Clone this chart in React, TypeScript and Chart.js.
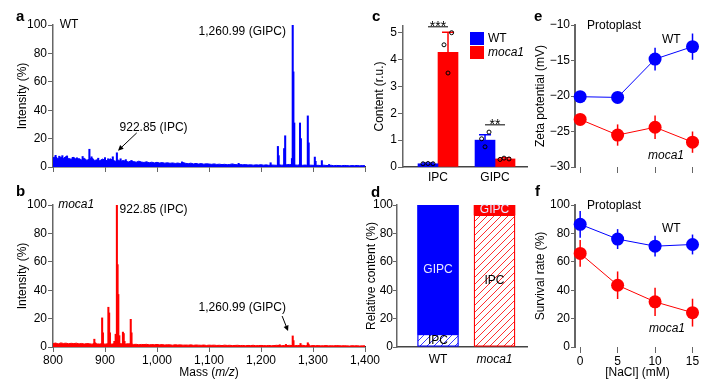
import React, { useEffect, useRef } from 'react';
import { Chart, registerables } from 'chart.js';

Chart.register(...registerables);

const FONT = "'Liberation Sans', Arial, Helvetica, sans-serif";
const BLUE = '#0000ff';
const RED = '#ff0000';
const AXIS = '#666666';

// ---------- panels a, b : mass spectra ----------
const massTicks = [800, 900, 1000, 1100, 1200, 1300, 1400];
const intensityTicks = [0, 20, 40, 60, 80, 100];
const noiseStart = 800;
const noiseStep = 5;
const wtNoise = [
  6.5, 7.2, 5.8, 7.0, 6.1, 7.4, 6.0, 5.5, 6.8, 5.2,
  5.9, 5.0, 6.2, 4.8, 5.4, 6.6, 4.6, 5.1, 4.4, 5.6,
  4.9, 4.3, 5.8, 4.7, 4.1, 5.0, 3.9, 4.6, 4.0, 3.6,
  4.2, 3.8, 3.4, 4.1, 3.5, 3.2, 3.7, 3.0, 3.4, 2.9,
  3.3, 2.8, 3.1, 2.7, 3.0, 2.6, 2.9, 2.5, 2.8, 2.4,
  3.1, 2.6, 2.3, 2.7, 2.2, 2.5, 2.1, 2.4, 2.0, 2.3,
  2.1, 1.9, 2.2, 1.8, 2.0, 1.7, 1.9, 1.6, 1.8, 2.2,
  1.7, 1.6, 1.8, 1.5, 1.7, 1.4, 1.6, 1.3, 1.5, 1.4,
  1.6, 1.3, 1.5, 1.2, 1.4, 1.3, 1.2, 1.5, 1.3, 1.4,
  1.6, 1.8, 1.5, 1.4, 1.3, 1.6, 1.2, 1.4, 1.1, 1.3,
  1.2, 1.1, 1.2, 1.0, 1.3, 1.1, 1.0, 1.2, 0.9, 1.1,
  1.0, 0.9, 1.1, 1.0, 0.8, 1.0, 0.9, 1.1, 0.8, 1.0,
  0.9,
];
const wtPeaks: [number, number][] = [
  [805, 8.2], [812, 7.6], [818, 8.0], [827, 7.8], [838, 6.8], [846, 6.5], [857, 7.4],
  [870, 12.5], [874, 7.2], [887, 6.2], [900, 6.6], [906, 5.8], [915, 7.2], [922.85, 10],
  [930, 5.8], [940, 5.2], [951, 4.6], [1048, 3.6], [1157, 2.6], [1218.5, 3],
  [1232.5, 14.5], [1234, 8], [1244.5, 13], [1246.5, 22], [1259.5, 6], [1260.99, 100],
  [1262.3, 67], [1264, 31], [1275, 31], [1276.7, 20], [1290, 36], [1291.7, 17],
  [1303.5, 7], [1305, 4], [1317, 4.5], [1331, 1.8],
];
const mocaNoise = [
  2.4, 2.8, 2.2, 2.9, 2.5, 2.7, 2.3, 2.6, 2.4, 2.7,
  2.2, 2.5, 2.1, 2.4, 2.3, 2.0, 2.6, 2.2, 2.1, 2.4,
  2.0, 2.3, 1.9, 2.2, 2.5, 2.0, 2.4, 1.9, 2.1, 2.3,
  2.2, 1.8, 1.9, 1.6, 1.8, 1.7, 1.9, 1.5, 1.7, 1.6,
  1.8, 1.5, 1.7, 1.4, 1.6, 1.5, 1.3, 1.6, 1.4, 1.5,
  1.3, 1.4, 1.3, 1.5, 1.2, 1.4, 1.3, 1.2, 1.4, 1.1,
  1.3, 1.2, 1.3, 1.1, 1.2, 1.0, 1.3, 1.1, 1.2, 1.0,
  1.1, 1.2, 1.0, 1.1, 0.9, 1.1, 1.0, 1.2, 0.9, 1.0,
  1.1, 1.0, 0.9, 1.1, 0.9, 1.0, 1.2, 1.0, 0.9, 1.1,
  1.0, 1.2, 1.0, 0.9, 1.1, 1.0, 1.2, 0.9, 1.0, 0.8,
  1.0, 0.9, 1.0, 0.8, 0.9, 1.0, 0.8, 0.9, 0.8, 1.0,
  0.9, 0.8, 0.9, 0.8, 0.7, 0.9, 0.8, 0.9, 0.7, 0.8,
  0.8,
];
const mocaPeaks: [number, number][] = [
  [879.5, 5.5], [881, 3], [894.5, 20.5], [896, 10], [906.5, 28], [908, 24], [909.5, 10],
  [918, 4], [920.5, 9], [922.85, 100], [924.2, 58], [925.6, 37], [927.5, 8],
  [934.5, 10.5], [936, 9.5], [937.5, 4], [949.5, 19.5], [951, 10],
  [1236, 1.6], [1248, 1.8], [1261, 7.8], [1262.5, 4.5], [1276, 2.5], [1290, 3], [1291.5, 2],
];

type Ann = { text: string; mz: number; val: number; align: CanvasTextAlign; italic?: boolean };
type Arrow = { from: [number, number]; to: [number, number] };
const wtAnnotations: Ann[] = [
  { text: 'WT', mz: 813, val: 100, align: 'left' },
  { text: '1,260.99 (GIPC)', mz: 1248, val: 95, align: 'right' },
  { text: '922.85 (IPC)', mz: 928, val: 28, align: 'left' },
];
const wtArrows: Arrow[] = [{ from: [961, 24], to: [925, 11.5] }];
const mocaAnnotations: Ann[] = [
  { text: 'moca1', mz: 810, val: 100, align: 'left', italic: true },
  { text: '922.85 (IPC)', mz: 928, val: 96.5, align: 'left' },
  { text: '1,260.99 (GIPC)', mz: 1080, val: 28, align: 'left' },
];
const mocaArrows: Arrow[] = [{ from: [1240.6, 21.8], to: [1252, 11.3] }];

// ---------- panel c ----------
const lipidClasses = ['IPC', 'GIPC'];
const contentWT = [0.12, 1.0];
const contentWTErr = [0.03, 0.2];
const contentMoca = [4.27, 0.3];
const contentMocaErr = [0.75, 0.04];
const repsWT = [[0.12, 0.13, 0.12], [1.3, 1.05, 0.75]];
const repsMoca = [[5.0, 4.55, 3.5], [0.28, 0.33, 0.3]];
const jitterWT = [[-0.25, 0, 0.25], [0.2, -0.17, 0]];
const jitterMoca = [[0.18, -0.2, 0], [-0.25, -0.05, 0.2]];
const contentTicks = [0, 1, 2, 3, 4, 5];
const sigLevel = [5.22, 1.57];
const sigStars = ['***', '**'];

// ---------- panel d ----------
const genotypes = ['WT', 'moca1'];
const relIPC = [9, 93];
const relGIPC = [91, 7];
const relTicks = [0, 20, 40, 60, 80, 100];

// ---------- panels e, f ----------
const nacl = [0, 5, 10, 15];
const zetaWT = [-20.1, -20.2, -14.8, -13.05];
const zetaWTErr = [0.3, 0.3, 1.6, 1.85];
const zetaMoca = [-23.3, -25.5, -24.4, -26.5];
const zetaMocaErr = [0.5, 1.5, 1.65, 1.5];
const zetaTicks = [-30, -25, -20, -15, -10];
const survWT = [86.4, 76, 71, 72.2];
const survWTErr = [9.4, 7, 7.3, 7];
const survMoca = [65.9, 43.5, 31.8, 24.2];
const survMocaErr = [9.4, 9.7, 10, 9.8];
const survTicks = [0, 20, 40, 60, 80, 100];

Chart.defaults.font.family = FONT;
Chart.defaults.color = '#000';

const f12 = { family: FONT, size: 12 };

function yCfg(o: any) {
  return {
    type: 'linear',
    min: o.min,
    max: o.max,
    afterFit: (s: any) => { s.width = o.width; },
    afterBuildTicks: (s: any) => { s.ticks = o.ticks.map((v: number) => ({ value: v })); },
    grid: { display: true, drawOnChartArea: false, drawTicks: true, tickLength: o.tickLen, color: AXIS, lineWidth: 1 },
    border: { display: true, color: AXIS, width: o.borderWidth ?? 1.5 },
    ticks: {
      color: '#000', font: o.tickFont ?? f12, padding: o.tickPad, autoSkip: false,
      callback: (v: any) => (o.fmt ? o.fmt(v) : String(v)),
    },
    title: { display: true, text: o.title, color: '#000', font: f12, padding: { top: o.titlePad, bottom: 0 } },
  };
}

const baseOpts = {
  responsive: false,
  animation: false,
  devicePixelRatio: 1,
  events: [],
  plugins: { legend: { display: false }, tooltip: { enabled: false } },
};

function specAnnot(texts: Ann[], arrows: Arrow[]) {
  return {
    id: 'specAnnot',
    afterDatasetsDraw(chart: any) {
      const { ctx } = chart;
      const x = chart.scales.x;
      const y = chart.scales.y;
      ctx.save();
      ctx.fillStyle = '#000';
      ctx.strokeStyle = '#000';
      ctx.textBaseline = 'middle';
      for (const t of texts) {
        ctx.font = `${t.italic ? 'italic ' : ''}12px ${FONT}`;
        ctx.textAlign = t.align;
        ctx.fillText(t.text, x.getPixelForValue(t.mz), y.getPixelForValue(t.val));
      }
      for (const a of arrows) {
        const x1 = x.getPixelForValue(a.from[0]);
        const y1 = y.getPixelForValue(a.from[1]);
        const x2 = x.getPixelForValue(a.to[0]);
        const y2 = y.getPixelForValue(a.to[1]);
        const ang = Math.atan2(y2 - y1, x2 - x1);
        const hl = 6;
        ctx.lineWidth = 1;
        ctx.beginPath();
        ctx.moveTo(x1, y1);
        ctx.lineTo(x2 - Math.cos(ang) * hl * 0.7, y2 - Math.sin(ang) * hl * 0.7);
        ctx.stroke();
        ctx.beginPath();
        ctx.moveTo(x2, y2);
        ctx.lineTo(x2 - hl * Math.cos(ang - 0.45), y2 - hl * Math.sin(ang - 0.45));
        ctx.lineTo(x2 - hl * Math.cos(ang + 0.45), y2 - hl * Math.sin(ang + 0.45));
        ctx.closePath();
        ctx.fill();
      }
      ctx.restore();
    },
  };
}

const massTitle = {
  id: 'massTitle',
  afterDraw(chart: any) {
    const { ctx, chartArea } = chart;
    const parts: [string, boolean][] = [['Mass (', false], ['m/z', true], [')', false]];
    ctx.save();
    let total = 0;
    const widths = parts.map(([t, it]) => {
      ctx.font = `${it ? 'italic ' : ''}12px ${FONT}`;
      const w = ctx.measureText(t).width;
      total += w;
      return w;
    });
    let x = (chartArea.left + chartArea.right) / 2 - total / 2;
    ctx.fillStyle = '#000';
    ctx.textBaseline = 'middle';
    ctx.textAlign = 'left';
    parts.forEach(([t, it], i) => {
      ctx.font = `${it ? 'italic ' : ''}12px ${FONT}`;
      ctx.fillText(t, x, chart.height - 14);
      x += widths[i];
    });
    ctx.restore();
  },
};

function spectrumConfig(noise: number[], peaks: [number, number][], color: string, showLabels: boolean, top: number, xH: number, plugins: any[]) {
  return {
    type: 'line',
    data: {
      datasets: [
        {
          type: 'bar',
          data: peaks.map(([m, h]) => ({ x: m, y: h })),
          backgroundColor: color,
          borderWidth: 0,
          barThickness: 1.4,
        },
        {
          type: 'line',
          data: noise.map((v, i) => ({ x: noiseStart + i * noiseStep, y: v })),
          borderColor: color,
          borderWidth: 1,
          backgroundColor: color,
          fill: 'origin',
          pointRadius: 0,
          tension: 0,
        },
      ],
    },
    options: {
      ...baseOpts,
      layout: { padding: { left: 0, top, right: 20, bottom: 0 } },
      scales: {
        x: {
          type: 'linear', min: 800, max: 1400, offset: false,
          afterFit: (s: any) => { s.height = xH; },
          afterBuildTicks: (s: any) => { s.ticks = massTicks.map((v) => ({ value: v })); },
          grid: { display: true, offset: false, drawOnChartArea: false, drawTicks: true, tickLength: 5, color: AXIS },
          border: { display: true, color: '#333', width: 1.5 },
          ticks: {
            display: showLabels, color: '#000', font: f12, padding: 1, maxRotation: 0, autoSkip: false,
            callback: (v: any) => Number(v).toLocaleString('en-US'),
          },
        },
        y: yCfg({ min: 0, max: 100, ticks: intensityTicks, width: 53, title: 'Intensity (%)', titlePad: 15, tickLen: 5, tickPad: 1 }),
      },
    },
    plugins,
  };
}

function buildA() {
  return spectrumConfig(wtNoise, wtPeaks, BLUE, false, 25, 18, [specAnnot(wtAnnotations, wtArrows)]);
}
function buildB() {
  return spectrumConfig(mocaNoise, mocaPeaks, RED, true, 20, 40, [specAnnot(mocaAnnotations, mocaArrows), massTitle]);
}

function buildC() {
  const plugin = {
    id: 'cExtras',
    afterDatasetsDraw(chart: any) {
      const { ctx } = chart;
      const yS = chart.scales.y;
      const means = [contentWT, contentMoca];
      const errs = [contentWTErr, contentMocaErr];
      const reps = [repsWT, repsMoca];
      const jit = [jitterWT, jitterMoca];
      const cols = [BLUE, RED];
      ctx.save();
      [0, 1].forEach((di) => {
        const meta = chart.getDatasetMeta(di);
        meta.data.forEach((bar: any, j: number) => {
          const yTop = yS.getPixelForValue(means[di][j] + errs[di][j]);
          const yMean = yS.getPixelForValue(means[di][j]);
          ctx.strokeStyle = cols[di];
          ctx.lineWidth = 1.5;
          ctx.beginPath();
          ctx.moveTo(bar.x, yMean);
          ctx.lineTo(bar.x, yTop);
          ctx.moveTo(bar.x - 6, yTop);
          ctx.lineTo(bar.x + 6, yTop);
          ctx.stroke();
        });
      });
      [0, 1].forEach((di) => {
        const meta = chart.getDatasetMeta(di);
        meta.data.forEach((bar: any, j: number) => {
          reps[di][j].forEach((v: number, k: number) => {
            ctx.strokeStyle = '#000';
            ctx.lineWidth = 1;
            ctx.beginPath();
            ctx.arc(bar.x + jit[di][j][k] * bar.width, yS.getPixelForValue(v), 2, 0, Math.PI * 2);
            ctx.stroke();
          });
        });
      });
      const m0 = chart.getDatasetMeta(0).data;
      const m1 = chart.getDatasetMeta(1).data;
      sigLevel.forEach((lv, i) => {
        const yy = yS.getPixelForValue(lv);
        ctx.strokeStyle = '#000';
        ctx.lineWidth = 1;
        ctx.beginPath();
        ctx.moveTo(m0[i].x, yy);
        ctx.lineTo(m1[i].x, yy);
        ctx.stroke();
        ctx.fillStyle = '#000';
        ctx.font = `14px ${FONT}`;
        ctx.textAlign = 'center';
        ctx.textBaseline = 'alphabetic';
        ctx.fillText(sigStars[i], (m0[i].x + m1[i].x) / 2, yy + 4.5);
      });
      ctx.fillStyle = BLUE;
      ctx.fillRect(102, 32, 14, 13);
      ctx.fillStyle = RED;
      ctx.fillRect(102, 46, 14, 13);
      ctx.fillStyle = '#000';
      ctx.textAlign = 'left';
      ctx.textBaseline = 'middle';
      ctx.font = `12px ${FONT}`;
      ctx.fillText('WT', 120, 38.5);
      ctx.font = `italic 12px ${FONT}`;
      ctx.fillText('moca1', 120, 52.5);
      ctx.restore();
    },
  };
  return {
    type: 'bar',
    data: {
      datasets: [
        { label: 'WT', data: contentWT.map((v, i) => ({ x: i, y: v })), backgroundColor: BLUE, barThickness: 20, borderWidth: 0 },
        { label: 'moca1', data: contentMoca.map((v, i) => ({ x: i, y: v })), backgroundColor: RED, barThickness: 20, borderWidth: 0 },
      ],
    },
    options: {
      ...baseOpts,
      layout: { padding: { left: 0, top: 26, right: 23, bottom: 0 } },
      scales: {
        x: {
          type: 'linear', min: -0.614, max: 1.561, offset: false,
          afterFit: (s: any) => { s.height = 18; },
          afterBuildTicks: (s: any) => { s.ticks = lipidClasses.map((_, i) => ({ value: i })); },
          grid: { display: true, offset: false, drawOnChartArea: false, drawTicks: false, color: AXIS },
          border: { display: true, color: '#444', width: 1.5 },
          ticks: { color: '#000', font: f12, padding: 3, autoSkip: false, maxRotation: 0, callback: (_v: any, i: number) => lipidClasses[i] },
        },
        y: yCfg({ min: 0, max: 5.25, ticks: contentTicks, width: 35, title: 'Content (r.u.)', titlePad: 4, tickLen: 5, tickPad: 1 }),
      },
    },
    plugins: [plugin],
  };
}

function makeHatch(color: string) {
  const c = document.createElement('canvas');
  c.width = 7;
  c.height = 7;
  const g = c.getContext('2d')!;
  g.fillStyle = '#ffffff';
  g.fillRect(0, 0, 7, 7);
  g.strokeStyle = color;
  g.lineWidth = 1;
  g.beginPath();
  g.moveTo(-1, 8); g.lineTo(8, -1);
  g.moveTo(-1, 1); g.lineTo(1, -1);
  g.moveTo(6, 8); g.lineTo(8, 6);
  g.stroke();
  return g.createPattern(c, 'repeat')!;
}

function buildD() {
  const segNames = ['IPC', 'GIPC'];
  const plugin = {
    id: 'dLabels',
    afterDatasetsDraw(chart: any) {
      const { ctx } = chart;
      ctx.save();
      ctx.font = `12px ${FONT}`;
      ctx.textAlign = 'center';
      ctx.textBaseline = 'middle';
      [0, 1].forEach((di) => {
        chart.getDatasetMeta(di).data.forEach((bar: any) => {
          ctx.fillStyle = di === 0 ? '#000' : '#e8e8ff';
          ctx.fillText(segNames[di], bar.x, (bar.y + bar.base) / 2);
        });
      });
      ctx.restore();
    },
  };
  return {
    type: 'bar',
    data: {
      datasets: [
        {
          label: 'IPC', data: relIPC.map((v, i) => ({ x: i, y: v })),
          backgroundColor: [makeHatch('#3a3aff'), makeHatch('#ff3030')],
          borderColor: [BLUE, RED], borderWidth: 1.3, borderSkipped: false, barThickness: 41,
        },
        {
          label: 'GIPC', data: relGIPC.map((v, i) => ({ x: i, y: v })),
          backgroundColor: [BLUE, RED], borderWidth: 0, barThickness: 41,
        },
      ],
    },
    options: {
      ...baseOpts,
      layout: { padding: { left: 0, top: 20, right: 23, bottom: 0 } },
      scales: {
        x: {
          type: 'linear', min: -0.726, max: 1.575, offset: false, stacked: true,
          afterFit: (s: any) => { s.height = 40; },
          afterBuildTicks: (s: any) => { s.ticks = genotypes.map((_, i) => ({ value: i })); },
          grid: { display: true, offset: false, drawOnChartArea: false, drawTicks: false, color: AXIS },
          border: { display: true, color: '#444', width: 1.5 },
          ticks: {
            color: '#000', padding: 5, autoSkip: false, maxRotation: 0,
            font: (ctx: any) => ({ family: FONT, size: 12, style: genotypes[Math.round(ctx.tick?.value ?? 0)] === 'moca1' ? 'italic' : 'normal' }),
            callback: (_v: any, i: number) => genotypes[i],
          },
        },
        y: { ...yCfg({ min: 0, max: 100, ticks: relTicks, width: 33, title: 'Relative content (%)', titlePad: 0, tickLen: 4, tickPad: 0 }), stacked: true },
      },
    },
    plugins: [plugin],
  };
}

type Txt = { text: string; x: number; y: number; italic?: boolean };

function lineConfig(wt: number[], wtErr: number[], mo: number[], moErr: number[], yMin: number, yMax: number, yTicks: number[], title: string, top: number, xH: number, showX: boolean, texts: Txt[], fmt?: (v: number) => string) {
  const plugin = {
    id: 'errText',
    beforeDatasetsDraw(chart: any) {
      const { ctx } = chart;
      const x = chart.scales.x;
      const y = chart.scales.y;
      ctx.save();
      ctx.lineWidth = 1.5;
      [[wt, wtErr, BLUE], [mo, moErr, RED]].forEach(([vals, errs, col]: any) => {
        ctx.strokeStyle = col;
        nacl.forEach((n, i) => {
          const px = x.getPixelForValue(n);
          ctx.beginPath();
          ctx.moveTo(px, y.getPixelForValue(vals[i] - errs[i]));
          ctx.lineTo(px, y.getPixelForValue(vals[i] + errs[i]));
          ctx.stroke();
        });
      });
      ctx.restore();
    },
    afterDraw(chart: any) {
      const { ctx } = chart;
      ctx.save();
      ctx.fillStyle = '#000';
      ctx.textAlign = 'left';
      ctx.textBaseline = 'middle';
      texts.forEach((t) => {
        ctx.font = `${t.italic ? 'italic ' : ''}12px ${FONT}`;
        ctx.fillText(t.text, t.x, t.y);
      });
      ctx.restore();
    },
  };
  return {
    type: 'line',
    data: {
      datasets: [
        { data: nacl.map((n, i) => ({ x: n, y: wt[i] })), borderColor: BLUE, backgroundColor: BLUE, borderWidth: 1, pointRadius: 6.5, pointBorderWidth: 0, tension: 0 },
        { data: nacl.map((n, i) => ({ x: n, y: mo[i] })), borderColor: RED, backgroundColor: RED, borderWidth: 1, pointRadius: 6.5, pointBorderWidth: 0, tension: 0 },
      ],
    },
    options: {
      ...baseOpts,
      clip: false,
      layout: { padding: { left: 0, top, right: 13, bottom: 0 } },
      scales: {
        x: {
          type: 'linear', min: -0.69, max: 16,
          afterFit: (s: any) => { s.height = xH; },
          afterBuildTicks: (s: any) => { s.ticks = nacl.map((v) => ({ value: v })); },
          grid: { display: true, drawOnChartArea: false, drawTicks: true, tickLength: 6, color: AXIS },
          border: { display: false },
          ticks: { display: showX, color: '#000', font: f12, padding: 1, autoSkip: false, maxRotation: 0, callback: (v: any) => String(v) },
          title: { display: showX, text: '[NaCl] (mM)', color: '#000', font: f12, padding: { top: 0, bottom: 7 } },
        },
        y: yCfg({ min: yMin, max: yMax, ticks: yTicks, width: 47, title, titlePad: 5, tickLen: 4, tickPad: 1, borderWidth: 2, fmt }),
      },
    },
    plugins: [plugin],
  };
}

function buildE() {
  return lineConfig(zetaWT, zetaWTErr, zetaMoca, zetaMocaErr, -30, -10, zetaTicks, 'Zeta potential (mV)', 25, 18, false, [
    { text: 'Protoplast', x: 59, y: 25.5 },
    { text: 'WT', x: 134, y: 40 },
    { text: 'moca1', x: 120, y: 155.5, italic: true },
  ], (v) => (v < 0 ? '\u2212' + Math.abs(v) : String(v)));
}
function buildF() {
  return lineConfig(survWT, survWTErr, survMoca, survMocaErr, 0, 100, survTicks, 'Survival rate (%)', 20, 40, true, [
    { text: 'Protoplast', x: 59, y: 21 },
    { text: 'WT', x: 134, y: 44 },
    { text: 'moca1', x: 121, y: 144, italic: true },
  ]);
}

function ChartCanvas({ left, top, width, height, build }: { left: number; top: number; width: number; height: number; build: () => any }) {
  const ref = useRef<HTMLCanvasElement>(null);
  useEffect(() => {
    const chart = new Chart(ref.current as HTMLCanvasElement, build());
    return () => chart.destroy();
  }, []);
  return <canvas ref={ref} width={width} height={height} style={{ position: 'absolute', left, top, width, height }} />;
}

const panelLetters = [
  { t: 'a', x: 16, y: 21 },
  { t: 'b', x: 16, y: 196 },
  { t: 'c', x: 372, y: 21 },
  { t: 'd', x: 371, y: 197 },
  { t: 'e', x: 534, y: 21 },
  { t: 'f', x: 535, y: 196 },
];

export default function App() {
  return (
    <div style={{ position: 'absolute', left: 0, top: 0, width: 713, height: 387, background: '#fff', overflow: 'hidden' }}>
      <ChartCanvas left={0} top={0} width={385} height={185} build={buildA} />
      <ChartCanvas left={0} top={185} width={385} height={202} build={buildB} />
      <ChartCanvas left={368} top={0} width={182} height={185} build={buildC} />
      <ChartCanvas left={364} top={185} width={186} height={202} build={buildD} />
      <ChartCanvas left={528} top={0} width={185} height={185} build={buildE} />
      <ChartCanvas left={528} top={185} width={185} height={202} build={buildF} />
      {panelLetters.map((p) => (
        <div key={p.t} style={{ position: 'absolute', left: p.x, top: p.y - 13, font: `bold 15px ${FONT}`, lineHeight: '15px', color: '#000' }}>
          {p.t}
        </div>
      ))}
    </div>
  );
}
